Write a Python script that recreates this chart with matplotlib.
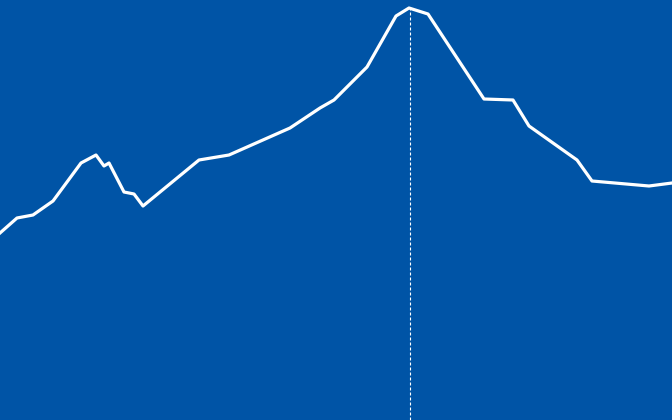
import matplotlib
matplotlib.use("Agg")
import matplotlib.pyplot as plt

# positions along the time axis and the series values
days = [0, 17, 33, 53, 81, 96, 104, 109, 124, 134, 143, 199, 229, 290, 320,
        334, 367, 396, 409, 428, 484, 513, 529, 577, 592, 649, 672]
values = [187, 202, 205, 219, 257, 265, 254, 257, 228, 226, 214, 260, 265, 292,
          312, 320, 353, 404, 412, 406, 321, 320, 294, 260, 239, 234, 237]

BG = '#0054A6'

fig = plt.figure(figsize=(6.72, 4.2), dpi=100)
fig.patch.set_facecolor(BG)
ax = fig.add_axes([0, 0, 1, 1])
ax.set_facecolor(BG)

# marker line from the peak down to the bottom, drawn under the series
peak = values.index(max(values))
ax.vlines(days[peak] + 1, 0, values[peak], color='white', linewidth=0.8,
          linestyle=(0, (2.7, 1.8)), zorder=1)

ax.plot(days, values, color='white', linewidth=2.3, zorder=2)

ax.set_xlim(0, 672)
ax.set_ylim(0, 420)
ax.axis('off')

fig.savefig('out.png', dpi=100, facecolor=BG)
